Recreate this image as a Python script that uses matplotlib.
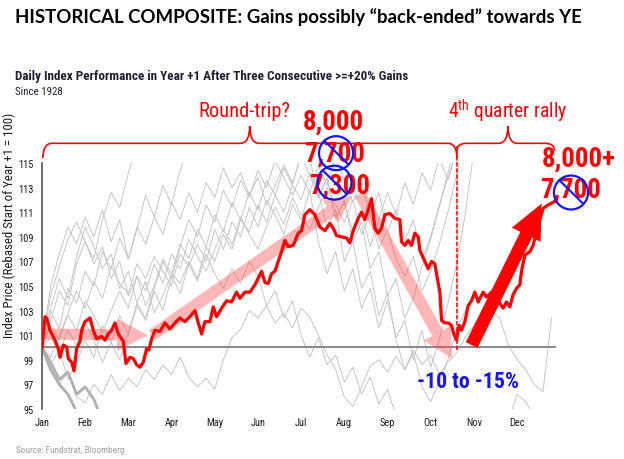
import numpy as np
import matplotlib
matplotlib.use("Agg")
import matplotlib.pyplot as plt
from matplotlib import font_manager as fm
from matplotlib.patches import FancyArrowPatch, ArrowStyle, Ellipse, PathPatch
from matplotlib.path import Path

months = ["Jan", "Feb", "Mar", "Apr", "May", "Jun",
          "Jul", "Aug", "Sep", "Oct", "Nov", "Dec"]
y_ticks = [95, 97, 99, 101, 103, 105, 107, 109, 111, 113, 115]

# composite path (x in months from start of year)
red_x = [0.0, 0.07, 0.108, 0.185, 0.30, 0.378, 0.417, 0.494, 0.571, 0.61, 0.687, 0.741,
         0.802, 0.88, 0.918, 0.995, 1.111, 1.188, 1.265, 1.381, 1.458, 1.535, 1.613,
         1.69, 1.767, 1.883, 1.944, 2.037, 2.114, 2.191, 2.269, 2.346, 2.423, 2.477,
         2.539, 2.616, 2.731, 2.847, 2.963, 3.079, 3.194, 3.310, 3.426, 3.542, 3.619,
         3.696, 3.773, 3.889, 3.966, 4.043, 4.159, 4.275, 4.39, 4.506, 4.583, 4.699,
         4.815, 4.931, 5.085, 5.162, 5.239, 5.316, 5.394, 5.471, 5.548, 5.625, 5.702,
         5.818, 5.934, 6.011, 6.088, 6.204, 6.319, 6.435, 6.551, 6.667, 6.744, 6.821,
         6.937, 7.052, 7.13, 7.207, 7.322, 7.4, 7.477, 7.554, 7.631, 7.708, 7.785,
         7.862, 7.94, 8.055, 8.171, 8.287, 8.325, 8.403, 8.48, 8.557, 8.634, 8.711,
         8.75, 8.866, 8.943, 9.02, 9.097, 9.151, 9.213, 9.252, 9.329, 9.406, 9.483,
         9.537, 9.599, 9.66, 9.715, 9.792, 9.869, 9.946, 10.023, 10.1, 10.216, 10.293,
         10.409, 10.525, 10.602, 10.679, 10.756, 10.833, 10.91, 10.988, 11.065, 11.103,
         11.181, 11.296, 11.373, 11.451, 11.528, 11.605, 11.72, 11.836, 11.914]
red_y = [100.0, 102.5, 102.4, 101.4, 100.6, 99.9, 99.2, 100.2, 100.05, 99.1, 98.8, 98.1,
         99.9, 100.5, 101.4, 102.1, 102.4, 101.4, 100.7, 100.9, 100.6, 101.1, 101.4,
         102.0, 101.1, 100.5, 98.7, 99.2, 99.1, 98.6, 98.4, 98.8, 99.9, 99.8,
         100.7, 101.4, 101.3, 102.0, 101.5, 102.0, 102.4, 102.1, 102.5, 103.0, 102.0,
         101.1, 102.1, 102.1, 103.3, 102.5, 103.2, 103.8, 103.7, 104.5, 104.0, 104.5,
         104.5, 105.1, 106.2, 105.3, 105.2, 106.0, 106.2, 107.0, 107.8, 108.7, 108.2,
         108.3, 109.3, 109.5, 110.8, 111.2, 110.8, 109.8, 109.5, 110.1, 109.7, 109.1,
         109.0, 108.9, 108.5, 109.5, 110.5, 111.0, 110.4, 111.2, 112.1, 109.7, 109.3,
         109.7, 110.8, 110.9, 110.5, 110.4, 108.6, 108.3, 108.7, 108.3, 109.3, 109.0,
         107.9, 107.0, 106.4, 107.0, 106.8, 105.7, 104.5, 102.2, 102.0, 102.0, 101.8,
         101.1, 100.6, 101.8, 101.4, 102.1, 103.4, 103.8, 104.5, 103.7, 104.5, 104.1,
         104.5, 104.0, 103.6, 103.2, 103.7, 103.3, 104.3, 104.8, 105.1, 106.2,
         107.5, 107.8, 108.3, 109.4, 110.4, 111.3, 111.6, 111.8, 112.0]

# individual historical years, one value every 0.2 month
gray_step = 0.2
gray_paths = [
    (0.0, [100, 98.5, 97.0, 98.0, 96.0, 95.5, 97.0, 96.2, 97.8, 96.5, 97.5, 96.8, 98.2,
           97.4, 98.6, 97.8, 99.2, 97.6, 96.8, 97.5, 96.6, 99.0, 100.8, 101.5, 103.0,
           102.4, 103.4, 102.0, 102.8, 101.6, 103.2, 102.5, 101.0, 99.4, 98.2, 96.0,
           95.2, 96.8, 98.5, 99.0, 98.0, 99.3, 98.2, 99.8, 98.6, 99.4, 97.8, 98.8,
           99.6, 100.8, 101.8, 102.6, 103.0, 102.4, 100.2, 99.0, 98.2, 97.0, 96.4,
           102.4]),
    (0.0, [100, 103.0, 101.5, 104.8, 103.6, 106.2, 105.0, 107.8, 106.4, 108.9, 107.2,
           109.8, 108.4, 110.6, 109.2, 111.8, 110.4, 112.6, 111.0, 113.4, 112.2, 114.6,
           113.0, 114.2, 112.4, 113.8, 111.6, 113.2, 114.8, 113.4, 115.6, 114.0, 112.2,
           113.8, 110.6, 111.8, 109.4, 111.0, 108.2, 110.4, 112.6, 110.8, 113.4, 111.6,
           114.2, 112.8, 115.4, 113.6, 116.0, 118.0]),
    (0.0, [100, 101.8, 100.6, 102.8, 104.6, 103.2, 105.4, 104.0, 106.6, 105.2, 104.4,
           106.8, 105.6, 107.4, 106.2, 105.0, 107.6, 106.6, 108.4, 107.0, 109.6, 108.0,
           110.2, 109.0, 111.4, 109.8, 112.0, 110.8, 109.2, 111.6, 110.4, 112.8, 108.6,
           106.0, 107.8, 104.6, 106.4, 103.2, 104.8, 101.6, 103.8, 100.8, 102.2, 99.0,
           101.4, 98.4, 100.6, 103.6, 106.8, 110.8, 116.0]),
    (0.0, [100, 105.0, 107.6, 109.8, 108.4, 110.6, 109.0, 111.2, 108.6, 110.4, 107.2,
           109.6, 112.4, 110.6, 113.2, 111.6, 114.4, 116.2, 117.5, 116.8, 118.0, 117.2,
           118.5, 117.6, 118.2, 117.0, 118.4, 117.4, 116.6, 117.8, 116.2, 115.4, 112.2,
           113.8, 110.4, 112.0, 108.6, 110.2, 106.4, 107.8, 104.2, 105.6, 102.4, 104.0,
           106.6, 108.8, 111.4, 114.2, 117.0]),
    (0.0, [100, 103.2, 105.6, 104.0, 107.4, 109.8, 108.2, 106.4, 107.6, 104.8, 106.2,
           103.6, 105.4, 102.8, 104.2, 106.0, 105.2, 107.0, 105.6, 108.2, 107.0, 109.2,
           108.0, 110.4, 109.4, 111.6, 110.2, 112.4, 111.0, 113.2, 112.0, 114.2, 112.6,
           109.8, 111.2, 107.0, 108.6, 104.8, 106.2, 102.6, 104.4, 100.6, 98.2, 99.6,
           96.8, 95.6, 97.2, 99.0, 101.4, 103.0]),
    (0.0, [100, 98.6, 99.8, 97.4, 98.8, 100.6, 99.2, 101.8, 100.4, 102.6, 101.0, 103.4,
           102.2, 104.6, 103.0, 105.8, 104.4, 106.8, 105.4, 107.6, 106.0, 104.8, 106.4,
           105.2, 107.0, 105.8, 103.4, 104.6, 102.4, 103.8, 101.0, 99.2, 100.8, 98.6,
           99.4, 97.2, 98.4, 96.2, 97.6, 95.4, 96.6, 94.4]),
    (0.0, [100, 100.8, 99.6, 101.4, 100.2, 102.0, 100.6, 98.8, 100.4, 99.0, 101.2, 103.6,
           102.4, 104.8, 107.0, 105.6, 108.2, 110.4, 109.0, 111.6, 110.2, 112.8, 111.4,
           113.6, 112.2, 114.4, 113.0, 115.2, 113.8, 112.4, 114.0, 112.6, 114.8, 113.2,
           115.4, 113.6, 111.8, 113.4, 110.8, 112.6, 109.4, 111.2, 108.6, 110.4, 107.2,
           109.0, 111.6, 113.8, 116.0]),
    (0.0, [100, 99.2, 101.0, 102.6, 101.4, 103.8, 102.6, 101.2, 103.0, 104.6, 103.2,
           105.8, 104.6, 106.8, 105.2, 107.6, 106.4, 108.8, 107.4, 106.2, 108.0, 109.6,
           108.4, 110.6, 109.2, 108.0, 109.8, 111.4, 110.0, 112.2, 110.8, 109.6, 111.4,
           113.0, 111.6, 110.2, 112.0, 109.2, 110.8, 108.0, 109.6, 107.2, 105.8, 107.4,
           104.6, 106.2, 108.4, 111.0, 114.0, 117.0]),
    (0.0, [100, 104.2, 106.6, 108.8, 110.2, 108.6, 106.8, 108.2, 105.6, 107.0, 104.2,
           105.8, 103.4, 105.0, 107.2, 106.0, 108.4, 107.2, 109.6, 108.2, 110.8, 109.4,
           111.8, 110.4, 112.6, 111.2, 113.6, 112.4, 114.6, 113.2, 115.8, 117.0]),
    (0.0, [100, 102.2, 104.6, 103.4, 106.8, 108.6, 107.2, 110.4, 112.6, 111.4, 114.2,
           116.5, 118.0]),
    (10.8, [94.0, 96.2, 95.6, 94.4]),
]
# the two crash years, drawn heavier
crash_paths = [
    (0.0, [100, 98.2, 97.0, 96.2, 94.8, 93.5]),
    (0.0, [100, 98.8, 97.4, 98.0, 96.2, 96.8, 95.8, 94.0]),
]

# pick a narrow sans for the chart text, Arial-like as a fallback
avail = {f.name for f in fm.fontManager.ttflist}
NARROW = "Liberation Sans"
for cand in ["Liberation Sans Narrow", "Arial Narrow", "Roboto Condensed",
             "Open Sans Condensed", "Noto Sans Condensed", "DejaVu Sans Condensed"]:
    if cand in avail:
        NARROW = cand
        break
TITLE_FONT = "Lato" if "Lato" in avail else "Open Sans"
plt.rcParams["font.family"] = [NARROW, "DejaVu Sans"]

fig = plt.figure(figsize=(6.24, 4.6), dpi=100)
ax = fig.add_axes([0.0673, 0.1087, 0.827, 0.5348])
renderer = fig.canvas.get_renderer()


def fit(t, width_px):
    # scale the font so the text spans the measured width of the reference
    w = t.get_window_extent(renderer).width
    t.set_fontsize(t.get_fontsize() * width_px / w)
    return t.get_fontsize()


for start, vals in gray_paths:
    xs = start + gray_step * np.arange(len(vals))
    ax.plot(xs, vals, color="#c6c6c6", lw=0.7, zorder=1)
for start, vals in crash_paths:
    xs = start + gray_step * np.arange(len(vals))
    ax.plot(xs, vals, color="#b0b0b0", lw=2.0, zorder=1)

ax.plot([0, 11.87], [100, 100], color="#7f7f7f", lw=1.3, zorder=2)

pink = (1.0, 0.25, 0.25, 0.38)


def arrow(a, b, color, hl, hw, tw, z):
    st = ArrowStyle.Simple(head_length=hl, head_width=hw, tail_width=tw)
    p = FancyArrowPatch(a, b, arrowstyle=st, mutation_scale=1, color=color,
                        lw=0, shrinkA=0, shrinkB=0, zorder=z, clip_on=False)
    ax.add_patch(p)


arrow((0.0, 101.1), (2.45, 101.0), pink, 22, 23, 8, 3)
arrow((2.55, 101.0), (7.18, 112.3), pink, 19, 20, 8.6, 3)
arrow((7.36, 112.5), (9.49, 99.1), pink, 21, 22, 8.6, 3)

ax.plot(red_x, red_y, color="#ff0000", lw=2.3, zorder=4, solid_joinstyle="round")

arrow((9.95, 100.2), (11.57, 111.7), "#ff0000", 25, 23, 9.4, 5)

# vertical dashed marker at the October low
ax.plot([9.61, 9.61], [99.8, 116.4], color="#ff0000", lw=1.1, ls=(0, (3, 1)),
        zorder=5, clip_on=False)

ax.set_xlim(0, 11.95)
ax.set_ylim(95, 115)
ax.set_xticks(range(12))
ax.set_xticklabels(months)
ax.set_yticks(y_ticks)
for s in ["top", "right", "bottom"]:
    ax.spines[s].set_visible(False)
ax.spines["left"].set_color("#555555")
ax.spines["left"].set_linewidth(1.2)

probe = fig.text(0, 0, "Jan", fontsize=9)
tick_size = fit(probe, 15)
probe.remove()
ax.tick_params(length=0, labelsize=tick_size, pad=6, colors="#1a1a1a")

ylab = fig.text(0.015, 0.511, "Index Price (Rebased Start of Year +1 = 100)", fontsize=9,
                rotation=90, ha="center", va="center", color="#1a1a1a")
ylab.set_fontsize(ylab.get_fontsize() * 225 / ylab.get_window_extent(renderer).height)


# curly braces above the plot
def brace(x0, x1, xm, y_line, y_end, y_tip, dx=0.22):
    verts = [(x0, y_end), (x0, y_line), (x0 + dx, y_line),
             (xm - dx, y_line), (xm, y_line), (xm, y_tip),
             (xm, y_line), (xm + dx, y_line),
             (x1 - dx, y_line), (x1, y_line), (x1, y_end)]
    codes = [Path.MOVETO, Path.CURVE3, Path.CURVE3,
             Path.LINETO, Path.CURVE3, Path.CURVE3,
             Path.CURVE3, Path.CURVE3,
             Path.LINETO, Path.CURVE3, Path.CURVE3]
    ax.add_patch(PathPatch(Path(verts, codes), fill=False, ec="#ff0000", lw=1.2,
                           clip_on=False, zorder=6))


brace(0.02, 9.61, 4.81, 116.6, 115.4, 118.0)
brace(9.61, 11.87, 10.79, 116.6, 116.0, 118.0)

red_txt = dict(color="#ff0000", ha="center", va="center", clip_on=False, zorder=7)
t = ax.text(4.68, 119.3, "Round-trip?", fontsize=14, **red_txt)
fit(t, 92)
t = ax.text(10.79, 119.3, r"4$^{\mathregular{th}}$ quarter rally", fontsize=14, **red_txt)
fit(t, 120)

t = ax.text(6.74, 118.4, "8,000", fontsize=21, fontweight="bold", **red_txt)
big = fit(t, 61)
ax.text(6.78, 115.8, "7,700", fontsize=big, fontweight="bold", **red_txt)
ax.text(6.90, 113.2, "7,300", fontsize=big, fontweight="bold", **red_txt)
ax.text(12.43, 115.4, "8,000+", fontsize=big, fontweight="bold", **red_txt)
ax.text(12.25, 112.9, "7,700", fontsize=big, fontweight="bold", **red_txt)

blue = "#1515ee"
for cx, cy in [(6.81, 115.8), (6.77, 113.4), (12.25, 112.6)]:
    ax.add_patch(Ellipse((cx, cy), 0.79, 2.76, fill=False, ec=blue, lw=1.6,
                         clip_on=False, zorder=8))
    ax.plot([cx - 0.27, cx + 0.28], [cy + 1.0, cy - 0.9], color=blue, lw=1.5,
            clip_on=False, zorder=8)

t = ax.text(9.86, 97.3, "-10 to -15%", fontsize=16, fontweight="bold", color=blue,
            ha="center", va="center", zorder=7)
fit(t, 102)

t = fig.text(0.024, 0.963,
             "HISTORICAL COMPOSITE: Gains possibly \u201cback-ended\u201d towards YE",
             fontsize=14, fontweight="bold", family=[TITLE_FONT, "DejaVu Sans"],
             ha="left", va="center", color="black")
fit(t, 568)
t = fig.text(0.024, 0.833,
             "Daily Index Performance in Year +1 After Three Consecutive >=+20% Gains",
             fontsize=8, fontweight="bold", color="#1f1f33", ha="left", va="center")
fit(t, 390)
t = fig.text(0.024, 0.80, "Since 1928", fontsize=8, color="#1f1f33",
             ha="left", va="center")
fit(t, 48)
t = fig.text(0.026, 0.02, "Source: Fundstrat, Bloomberg", fontsize=7, color="#a0a0a0",
             ha="left", va="center")
fit(t, 109)

fig.savefig("out.png", dpi=100)
